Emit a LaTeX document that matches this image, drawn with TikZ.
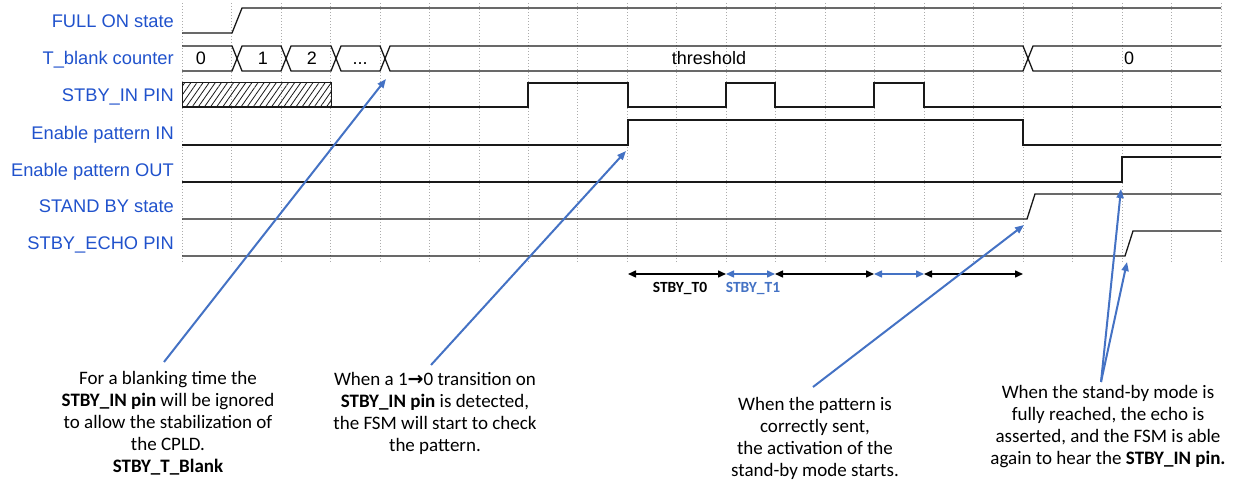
\documentclass[tikz,border=0pt]{standalone}
\usepackage{fontspec}
\setmainfont{Carlito}
\newfontfamily\arialf{Liberation Sans}
\newfontfamily\dejavu{DejaVu Sans}
\usetikzlibrary{arrows.meta,patterns.meta}
\definecolor{lblblue}{RGB}{32,82,204}
\definecolor{callblue}{RGB}{68,114,196}
\definecolor{wave}{RGB}{25,25,25}
\begin{document}
\begin{tikzpicture}[x=1pt,y=-1pt,
  sig/.style={draw=wave,line width=1.3pt,line join=miter},
  gridline/.style={draw=gray!65,line width=0.7pt,dash pattern=on 1pt off 2pt},
  siglabel/.style={font=\arialf\fontsize{18.3}{20}\selectfont,text=lblblue,anchor=base east,inner sep=0pt},
  buslabel/.style={font=\arialf\fontsize{18}{20}\selectfont,text=black,anchor=base,inner sep=0pt},
  note/.style={font=\fontsize{19}{22}\selectfont,align=center,inner sep=0pt},
  callout/.style={draw=callblue,line width=2pt,-{Triangle[length=9pt,width=7pt]}},
  tspan/.style={line width=1.5pt,{Triangle[length=8pt,width=7pt]}-{Triangle[length=8pt,width=7pt]}},
  tlabel/.style={font=\bfseries\fontsize{15.5}{17}\selectfont,inner sep=0pt}
]
\useasboundingbox (0,0) rectangle (1235,486);
% grid
\foreach \i in {0,...,21} \draw[gridline] ({182+49.476*\i},3) -- ({182+49.476*\i},262);
% labels
\node[siglabel] (lfull) at (174,28) {FULL ON state};
\node[siglabel] (lcnt) at (174,64.5) {T\_blank counter};
\node[siglabel] (lin) at (174,102) {STBY\_IN PIN};
\node[siglabel] (lepi) at (174,139.5) {Enable pattern IN};
\node[siglabel] (lepo) at (174,176.5) {Enable pattern OUT};
\node[siglabel] (lsb) at (174,212.5) {STAND BY state};
\node[siglabel] (lecho) at (174,249.5) {STBY\_ECHO PIN};
% FULL ON
\draw[sig] (182,33) -- (232,33) -- (242,8) -- (1221,8);
% counter bus
\draw[sig] (182,46) -- (232,46) -- (237,58.5) -- (232,71) -- (182,71);
\foreach \a/\b in {242/281,291/331,341/380,390/1023}
  \draw[sig] ({\a-5},58.5) -- (\a,46) -- (\b,46) -- ({\b+5},58.5) -- (\b,71) -- (\a,71) -- cycle;
\draw[sig] (1028,58.5) -- (1033,46) -- (1221,46);
\draw[sig] (1028,58.5) -- (1033,71) -- (1221,71);
\node[buslabel] (c0) at (201,64.5) {0};
\node[buslabel] (c1) at (263,64.5) {1};
\node[buslabel] (c2) at (312,64.5) {2};
\node[buslabel] (c3) at (360,64.5) {...};
\node[buslabel] (cth) at (709,64.5) {threshold};
\node[buslabel] (cz) at (1129,64.5) {0};
% STBY_IN
\fill[pattern={Lines[angle=55,distance=5pt,line width=0.8pt]},pattern color=wave] (182,83) rectangle (331,107);
\draw[wave,line width=1pt] (182,83) rectangle (331,107);
\draw[sig] (182,107) -- (528,107) -- (528,83) -- (628,83) -- (628,107) -- (726,107) -- (726,83) -- (775,83) -- (775,107) -- (874,107) -- (874,83) -- (924,83) -- (924,107) -- (1221,107);
% Enable pattern IN
\draw[sig] (182,145) -- (628,145) -- (628,120) -- (1023,120) -- (1023,145) -- (1221,145);
% Enable pattern OUT
\draw[sig] (182,182) -- (1122,182) -- (1122,157) -- (1221,157);
% STAND BY
\draw[sig] (182,219) -- (1027,219) -- (1035,194) -- (1221,194);
% ECHO
\draw[sig] (182,256) -- (1125,256) -- (1133,231) -- (1221,231);
% timing spans
\coordinate (p9) at (628,274);
\coordinate (p11) at (726,274);
\coordinate (p12) at (775,274);
\coordinate (p14) at (874,274);
\coordinate (p15) at (924,274);
\coordinate (p17) at (1023,274);
\draw[tspan,black] (p9) -- (p11);
\draw[tspan,callblue] (p11) -- (p12);
\draw[tspan,black] (p12) -- (p14);
\draw[tspan,callblue] (p14) -- (p15);
\draw[tspan,black] (p15) -- (p17);
\node[tlabel,text=black] (t0) at (680,289) {STBY\_T0};
\node[tlabel,text=callblue] (t1) at (753,289) {STBY\_T1};
% notes
\node[note] (n1) at (168,423) {For a blanking time the\\\textbf{STBY\_IN pin} will be ignored\\to allow the stabilization of\\the CPLD.\\\textbf{STBY\_T\_Blank}};
\node[note] (n2) at (435,413) {When a 1{\dejavu\bfseries →}0 transition on\\\textbf{STBY\_IN pin} is detected,\\the FSM will start to check\\the pattern.};
\node[note] (n3) at (815,438) {When the pattern is\\correctly sent,\\the activation of the\\stand-by mode starts.};
\node[note] (n4) at (1108,427) {When the stand-by mode is\\fully reached, the echo is\\asserted, and the FSM is able\\again to hear the \textbf{STBY\_IN pin.}};
% callouts
\coordinate (s1) at (164,362);
\coordinate (e1) at (386,79);
\coordinate (s2) at (431,365);
\coordinate (e2) at (626,151);
\coordinate (s3) at (813,387);
\coordinate (e3) at (1024,225);
\coordinate (s4) at (1101,382);
\coordinate (e4a) at (1121,189);
\coordinate (e4b) at (1127,262);
\draw[callout] (s1) -- (e1);
\draw[callout] (s2) -- (e2);
\draw[callout] (s3) -- (e3);
\draw[callout] (s4) -- (e4a);
\draw[callout] (s4) -- (e4b);
\end{tikzpicture}
\end{document}
